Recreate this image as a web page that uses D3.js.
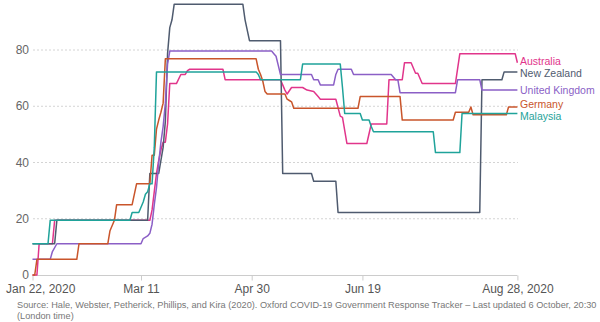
<!DOCTYPE html>
<html><head><meta charset="utf-8">
<script src="https://cdn.jsdelivr.net/npm/d3@7"></script>
<style>
html,body{margin:0;padding:0;background:#fff;}
svg{display:block;font-family:"Liberation Sans",Arial,Helvetica,sans-serif;}
</style></head><body>
<svg id="chart" width="600" height="322"></svg>
<script>
// ---- DATA (day offset from Jan 22, 2020, stringency index) ----
const startDateStr = "2020-01-22";
const endDateStr = "2020-08-28";
const countries = ["Australia", "New Zealand", "United Kingdom", "Germany", "Malaysia"];

const australia = [[0,0],[2,0],[3,11.11],[9,11.11],[10,19.44],[53,19.44],[54,23.15],[55,29.63],[56,36.11],[57,40.74],[58,44.44],[59,47.22],[60,47.22],[61,53.7],[62,68.06],[65,68.06],[67,71.3],[69,71.3],[70,72.69],[71,73.15],[86,73.15],[87,69.44],[112,69.44],[113,67.59],[114,65.74],[115,64.35],[117,66.67],[122,66.67],[124,65.74],[127,65.28],[128,64.35],[129,63.43],[130,62.5],[137,62.5],[139,56.48],[140,56.02],[142,46.76],[151,46.76],[153,53.7],[160,53.7],[161,69.44],[167,69.44],[168,75.46],[171,75.46],[173,71.76],[174,71.76],[176,68.06],[191,68.06],[193,78.7],[218,78.7],[219,75.46]];

const newZealand = [[0,11.11],[10,11.11],[11,19.44],[52,19.44],[53,36.11],[57,36.11],[58,40.74],[59,45.37],[60,54.63],[61,78.7],[62,87.96],[63,90.74],[64,96.3],[95,96.3],[96,90.74],[98,83.33],[112,83.33],[113,36.11],[126,36.11],[127,33.33],[137,33.33],[138,22.22],[202,22.22],[203,69.44],[212,69.44],[213,72.22],[219,72.22]];

const unitedKingdom = [[0,5.56],[8,5.56],[9,8.33],[11,11.11],[49,11.11],[50,12.96],[52,13.89],[53,14.81],[54,18.06],[55,25],[56,31.02],[57,39.81],[58,47.22],[59,52.78],[60,61.11],[61,75],[62,79.63],[108,79.63],[109,78.7],[110,77.78],[111,74.54],[112,71.3],[126,71.3],[127,69.44],[129,69.44],[130,67.59],[136,67.59],[137,71.3],[138,73.15],[144,73.15],[145,71.3],[162,71.3],[164,69.44],[165,69.44],[166,64.81],[191,64.81],[192,69.44],[202,69.44],[203,65.74],[219,65.74]];

const germany = [[0,0],[1,0],[2,5.56],[20,5.56],[21,11.11],[34,11.11],[35,15.74],[36,17.59],[37,19.44],[38,25],[45,25],[47,32.41],[53,32.41],[54,42.59],[55,42.59],[56,51.85],[57,55.09],[58,57.87],[59,61.11],[60,76.85],[101,76.85],[102,73.15],[103,71.3],[104,68.98],[105,65.28],[106,64.35],[114,64.35],[115,62.5],[116,62.04],[117,61.57],[118,59.26],[147,59.26],[148,63.43],[166,63.43],[167,55.09],[190,55.09],[191,57.87],[197,57.87],[198,59.72],[199,56.94],[214,56.94],[215,59.72],[219,59.72]];

const malaysia = [[0,11.11],[7,11.11],[8,19.44],[44,19.44],[45,22.22],[48,22.22],[49,24.07],[50,25.93],[51,28.7],[52,29.63],[53,32.41],[54,32.41],[55,45.37],[56,72.22],[101,72.22],[102,71.3],[103,69.44],[121,69.44],[122,75],[139,75],[140,66.67],[141,57.41],[148,57.41],[149,55.09],[152,55.09],[153,52.78],[154,50.93],[181,50.93],[182,43.52],[193,43.52],[194,57.41],[219,57.41]];

const yTickValues = [0, 20, 40, 60, 80];
const xTickDates = ["2020-01-22", "2020-03-11", "2020-04-30", "2020-06-19", "2020-08-28"];
const sourceLines = [
  "Source: Hale, Webster, Petherick, Phillips, and Kira (2020). Oxford COVID-19 Government Response Tracker \u2013 Last updated 6 October, 20:30",
  "(London time)"
];

// ---- STYLE ----
const seriesData = [australia, newZealand, unitedKingdom, germany, malaysia];
const colors = ["#e1358b", "#4f5b6f", "#8b5fc6", "#c9552b", "#1fa39a"];

const parse = d3.timeParse("%Y-%m-%d");
const start = parse(startDateStr);
const end = parse(endDateStr);

const svg = d3.select("#chart");
const x = d3.scaleTime().domain([start, end]).range([32.5, 517.4]);
const y = d3.scaleLinear().domain([0, 80]).range([275, 50]);

// gridlines
svg.append("g").selectAll("line").data(yTickValues.filter(v => v > 0)).join("line")
  .attr("x1", 33).attr("x2", 518)
  .attr("y1", d => y(d)).attr("y2", d => y(d))
  .attr("stroke", "#d4d4d4").attr("stroke-width", 1)
  .attr("stroke-dasharray", "2,2");

// y labels
svg.append("g").selectAll("text").data(yTickValues).join("text")
  .attr("x", 29).attr("y", d => y(d)).attr("dy", "0.35em")
  .attr("text-anchor", "end").attr("fill", "#666")
  .style("font-size", "12px").text(d => d);

// x axis
const xAxis = d3.axisBottom(x)
  .tickValues(xTickDates.map(parse))
  .tickSize(5).tickPadding(4)
  .tickFormat((d, i) => (i === 0 || i === xTickDates.length - 1) ? d3.timeFormat("%b %-d, %Y")(d) : d3.timeFormat("%b %-d")(d));
const gx = svg.append("g").attr("transform", "translate(0,275.5)").call(xAxis);
gx.select(".domain").attr("stroke", "#ccc").attr("d", `M${x(start)},0H${x(end)}`);
gx.selectAll(".tick line").attr("stroke", "#ccc");
gx.selectAll(".tick text").attr("fill", "#555").style("font-size", "12px")
  .style("font-family", '"Liberation Sans",Arial,sans-serif');
gx.selectAll(".tick text").each(function() {
  const bb = this.getBBox();
  const tx = d3.select(this.parentNode).attr("transform");
  const m = /translate\(([-\d.]+)/.exec(tx);
  const cx = m ? +m[1] : 0;
  if (cx + bb.x < 6) d3.select(this).attr("x", 6 - (cx + bb.x));
});

// lines
const line = d3.line()
  .x(d => x(d3.timeDay.offset(start, d[0])))
  .y(d => y(d[1]));

svg.append("g").selectAll("path").data(seriesData).join("path")
  .attr("d", d => line(d))
  .attr("fill", "none")
  .attr("stroke", (d, i) => colors[i])
  .attr("stroke-width", 1.5)
  .attr("stroke-linejoin", "round");

// labels with simple collision avoidance
const labels = countries.map((c, i) => ({ name: c, color: colors[i], y: y(seriesData[i][seriesData[i].length - 1][1]) }));
labels.sort((a, b) => a.y - b.y);
const gap = 11.5;
for (let it = 0; it < 50; it++) {
  for (let i = 1; i < labels.length; i++) {
    const d = labels[i].y - labels[i - 1].y;
    if (d < gap) {
      const s = (gap - d) / 2;
      labels[i].y += s; labels[i - 1].y -= s;
    }
  }
}
svg.append("g").selectAll("text").data(labels).join("text")
  .attr("x", 520).attr("y", d => d.y).attr("dy", "0.35em")
  .attr("fill", d => d.color).style("font-size", "10.5px")
  .text(d => d.name);

// source
svg.append("g").selectAll("text").data(sourceLines).join("text")
  .attr("x", 17).attr("y", (d, i) => 308 + i * 11)
  .attr("fill", "#777").style("font-size", "9.2px")
  .text(d => d);
</script>
</body></html>
